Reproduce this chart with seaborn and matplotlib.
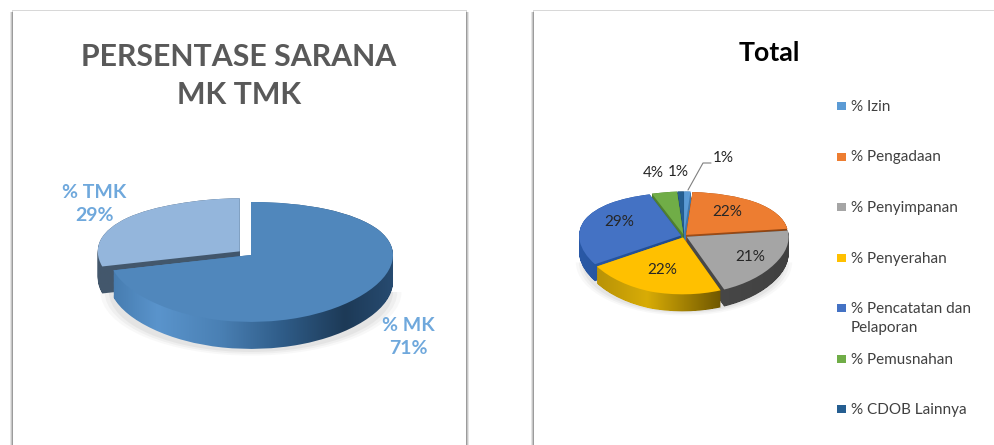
import numpy as np
import matplotlib
matplotlib.use("Agg")
import matplotlib.pyplot as plt
from matplotlib.patches import Rectangle, Wedge, PathPatch
from matplotlib.path import Path
import seaborn as sns

# data
sarana_labels = ['% MK', '% TMK']
sarana_values = [71, 29]
sarana_top = ['#5087BC', '#94B6DC']
sarana_side = [['#3F73A5', '#5A94CC', '#4A80B4', '#2F5C88', '#1D3A57', '#2A5078'],
               ['#44586C', '#3F556C']]

total_labels = ['% Izin', '% Pengadaan', '% Penyimpanan', '% Penyerahan',
                '% Pencatatan dan\nPelaporan', '% Pemusnahan', '% CDOB Lainnya']
total_values = [1, 22, 21, 22, 29, 4, 1]
total_top = ['#5B9BD5', '#ED7D31', '#A5A5A5', '#FFC000', '#4472C4', '#70AD47', '#255E91']
total_side = [['#3F78AC', '#3F78AC'],
              ['#B85A1C', '#8A4212'],
              ['#6E6E6E', '#4A4A4A', '#404040'],
              ['#A88608', '#D8AC06', '#6E5600', '#6E5600'],
              ['#2A5AA8', '#1F4A8C', '#234F96'],
              ['#4F7F30', '#4F7F30'],
              ['#1A4468', '#1A4468']]

W, H = 994, 445

sns.set_theme(style='white')
plt.rcParams['font.family'] = ['Lato', 'DejaVu Sans']

fig = plt.figure(figsize=(W / 100, H / 100), dpi=100, facecolor='white')


def pixel_axes(zorder):
    ax = fig.add_axes([0, 0, 1, 1], zorder=zorder)
    ax.set_xlim(0, W)
    ax.set_ylim(H, 0)
    ax.axis('off')
    return ax


def draw_panel(ax, left, right, top):
    # soft grey edges round the white card
    ax.add_patch(Rectangle((left - 1, top - 1), right - left + 2, H, color='#D8D8D8', lw=0))
    for spread, alpha in [(3, 0.2), (2, 0.3), (1, 0.4)]:
        ax.add_patch(Rectangle((left - spread, top + 1), right - left + 2 * spread, H,
                               color='#808080', alpha=alpha, lw=0))
    ax.add_patch(Rectangle((left, top), right - left, H, color='white', lw=0))


def draw_pie(values, top_colors, side_colors, cx, cy, rx, ry, depth, explode, bend):
    ax = fig.add_axes([(cx - 1.3 * rx) / W, 1 - (cy + 1.6 * ry) / H, 2.6 * rx / W, 3.2 * ry / H], zorder=1)
    wedges, _ = ax.pie(values, colors=top_colors, startangle=90, counterclock=False, explode=explode,
                       radius=1, wedgeprops={'lw': 0})
    ax.set_aspect('auto')
    d = depth / ry

    # faint shadow under the front half of the pie
    for grow, alpha in [(1.06, 0.05), (1.03, 0.07), (1.0, 0.09)]:
        ax.add_patch(Wedge((0, -d - 0.05), grow, 180, 360, color='#808080', alpha=alpha, lw=0, zorder=1))

    # the centre sits higher than the middle of the ellipse, as in a perspective view
    paths = []
    for wedge in wedges:
        base = wedge.get_path()
        verts = base.vertices.copy()
        verts[:, 1] += bend * (1 - np.clip(verts[:, 1], -1, 1) ** 2)
        paths.append(Path(verts, base.codes))
        wedge.set_visible(False)

    # side walls, back to front
    order = sorted(range(len(wedges)), key=lambda i: -np.sin(np.radians((wedges[i].theta1 + wedges[i].theta2) / 2)))
    for rank, i in enumerate(order):
        layers = [Path(paths[i].vertices + [0, -off], paths[i].codes) for off in np.linspace(0, d, 24)]
        clip = PathPatch(Path.make_compound_path(*layers), transform=ax.transData, fc='none', lw=0)
        cmap = sns.blend_palette(side_colors[i], n_colors=256, as_cmap=True)
        im = ax.imshow(np.linspace(0, 1, 256).reshape(1, -1), cmap=cmap, extent=(-1.1, 1.1, -1.6, 1.6),
                       aspect='auto', zorder=2 + rank * 0.1)
        im.set_clip_path(clip)

    # top faces
    for path, color in zip(paths, top_colors):
        ax.add_patch(PathPatch(path, fc=color, lw=0, zorder=5))

    ax.set_xlim(-1.3, 1.3)
    ax.set_ylim(-1.6, 1.6)
    ax.axis('off')
    return wedges


bg = pixel_axes(0)
draw_panel(bg, 13, 466, 11)
draw_panel(bg, 534, 1010, 11)

draw_pie(sarana_values, sarana_top, sarana_side, 251, 262, 142, 60, 27, [0, 0.1], 0.117)
draw_pie(total_values, total_top, total_side, 684, 243, 102, 50, 17,
         [0.03, 0.03, 0.03, 0.03, 0.03, 0.03, 0.03], 0.14)

fg = pixel_axes(2)

# left chart texts
fg.text(239, 57, 'PERSENTASE SARANA', ha='center', va='center', fontsize=21.8, fontweight='bold', color='#595959')
fg.text(239, 95, 'MK TMK', ha='center', va='center', fontsize=21.8, fontweight='bold', color='#595959')
fg.text(94, 204, f'{sarana_labels[1]}\n{sarana_values[1]}%', ha='center', va='center', fontsize=14,
        fontweight='bold', color='#6FA8DC', linespacing=1.45)
fg.text(408, 337, f'{sarana_labels[0]}\n{sarana_values[0]}%', ha='center', va='center', fontsize=14,
        fontweight='bold', color='#6FA8DC', linespacing=1.45)

# right chart texts
fg.text(769, 53, 'Total', ha='center', va='center', fontsize=19.3, fontweight='bold', color='black')
label_spots = [(723, 158), (727, 212), (750, 257), (662, 270), (619, 222), (653, 173), (678, 172)]
for value, (x, y) in zip(total_values, label_spots):
    fg.text(x, y, f'{value}%', ha='center', va='center', fontsize=11, color='#262626')
fg.plot([688, 703, 711], [190, 163, 163], color='#7F7F7F', lw=0.8)

# hand placed legend, since the two line entry does not push the next one down
for i, (label, color) in enumerate(zip(total_labels, total_top)):
    y = 106 + i * 50.5
    fg.add_patch(Rectangle((837, y - 4), 8.5, 8, color=color, lw=0))
    fg.text(851, y - 6, label, ha='left', va='top', fontsize=11, color='#404040', linespacing=1.45)

fig.savefig('out.png', dpi=100)
